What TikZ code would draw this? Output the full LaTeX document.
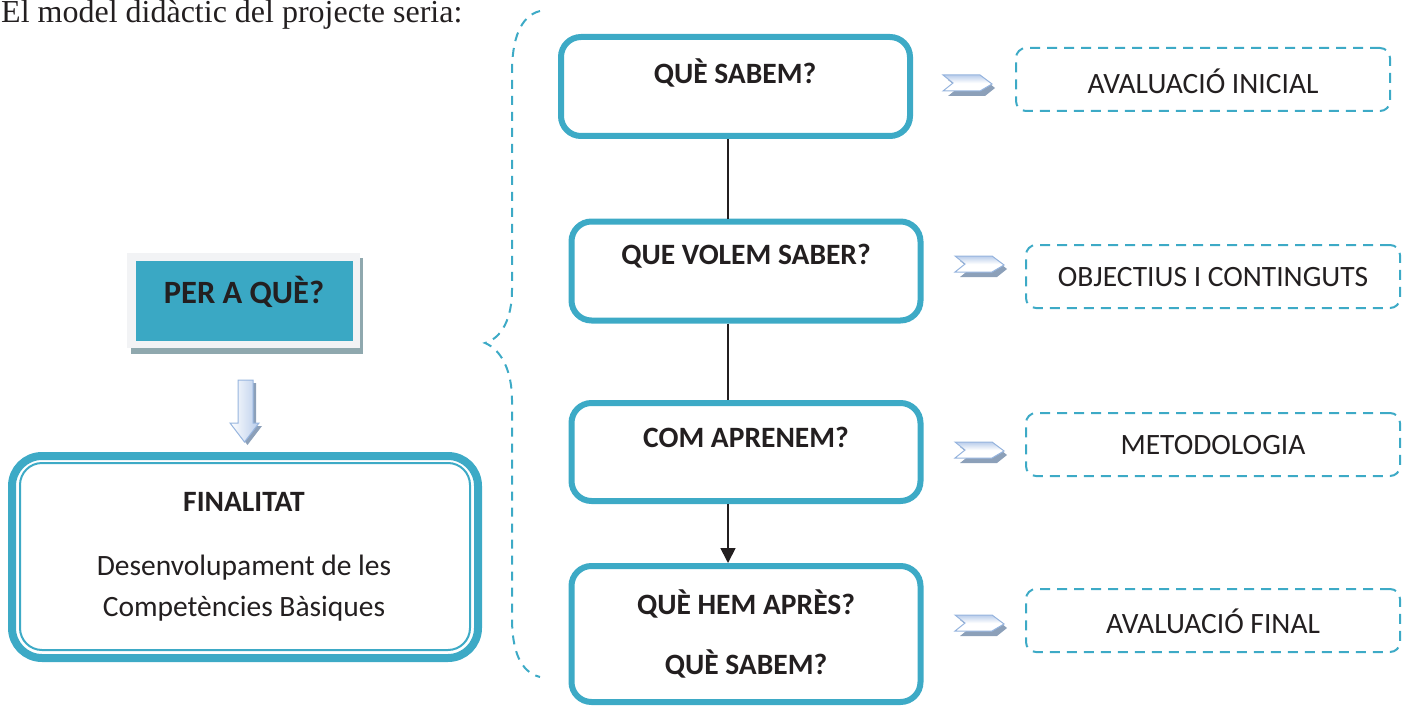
\documentclass[tikz,border=0pt]{standalone}
\usepackage{fontspec}
\setmainfont{Carlito}
\newfontfamily\titlefont{Liberation Serif}
\usetikzlibrary{arrows.meta,shadings}
\definecolor{teal1}{RGB}{61,170,198}
\definecolor{tealfill}{RGB}{58,168,196}
\definecolor{framegray}{RGB}{242,243,245}
\definecolor{shadowgray}{RGB}{143,168,174}
\definecolor{chevline}{RGB}{150,180,222}
\definecolor{chevfill}{RGB}{185,205,235}
\definecolor{chevshadow}{RGB}{140,160,185}
\definecolor{txt}{RGB}{35,31,32}
\tikzset{
  qbox/.style={draw=teal1, line width=6pt, rounded corners=20pt, fill=white, inner sep=0pt},
  dbox/.style={draw=teal1, line width=2pt, rounded corners=10pt, dash pattern=on 10pt off 7pt, inner sep=0pt},
  btext/.style={font=\fontsize{29.5}{35}\selectfont\bfseries, text=txt, inner sep=0pt},
  ntext/.style={font=\fontsize{29.5}{35}\selectfont, text=txt, inner sep=0pt},
  conn/.style={draw=txt, line width=1.8pt},
  chev/.style={draw=chevline, line width=1pt, top color=chevfill, bottom color=white, middle color=white},
  chevsh/.style={fill=chevshadow, draw=none},
}
\begin{document}
\begin{tikzpicture}[x=1pt,y=-1pt]
\useasboundingbox (0,0) rectangle (1403,706);
% title
\node[font=\titlefont\fontsize{32}{37}\selectfont, text=txt, anchor=base west, inner sep=0pt] (title) at (1,23) {El model didàctic del projecte seria:};

% brace
\draw[teal1, line width=2pt, dash pattern=on 9pt off 7pt] (540,11) .. controls (520,16) and (512,40) .. (512,72) -- (512,290) .. controls (512,318) and (502,338) .. (485,343) .. controls (502,350) and (512,372) .. (512,400) -- (512,618) .. controls (512,650) and (520,672) .. (540,677);

% PER A QUE box
\fill[shadowgray] (131,258) rectangle (363,354);
\fill[framegray] (127,253) rectangle (360,348);
\node[fill=tealfill, minimum width=217pt, minimum height=80pt, inner sep=0pt] (per) at (244,301) {};
\node[btext, font=\fontsize{32.5}{38}\selectfont\bfseries] (pert) at (244,292) {PER A QUÈ?};

% down block arrow
\fill[chevshadow] (241,383) -- (256,383) -- (256,426) -- (262,426) -- (247.5,445) -- (233,426) -- (241,426) -- cycle;
\draw[draw=chevline, line width=1pt, left color=white, right color=chevfill] (238,380) -- (253,380) -- (253,423) -- (259,423) -- (244.5,442) -- (230,423) -- (238,423) -- cycle;
\coordinate (darrow) at (244.5,442);

% FINALITAT box
\node[draw=teal1, line width=8pt, rounded corners=30pt, minimum width=466pt, minimum height=202pt, inner sep=0pt] (fin) at (245,557) {};
\draw[teal1, line width=2pt, rounded corners=22pt] (20,463) rectangle (470,650);
\node[btext] (fint) at (244,502) {FINALITAT};
\node[ntext] (fin1) at (244,568) {Desenvolupament de les};
\node[ntext] (fin2) at (244,609) {Competències Bàsiques};

% right column boxes
\node[qbox, minimum width=349pt, minimum height=99pt] (q1) at (735.5,86.5) {};
\node[btext] (q1t) at (735,73) {QUÈ SABEM?};
\node[qbox, minimum width=349pt, minimum height=99pt] (q2) at (746,271) {};
\node[btext] (q2t) at (746,256) {QUE VOLEM SABER?};
\node[qbox, minimum width=349pt, minimum height=98pt] (q3) at (746,452) {};
\node[btext] (q3t) at (746,437) {COM APRENEM?};
\node[qbox, minimum width=349pt, minimum height=136pt] (q4) at (746,634) {};
\node[btext] (q4t) at (746,604) {QUÈ HEM APRÈS?};
\node[btext] (q4s) at (746,664) {QUÈ SABEM?};

% connectors
\coordinate (lx) at (728,0);
\draw[conn] (q1.south -| lx) -- (q2.north -| lx);
\draw[conn] (q2.south -| lx) -- (q3.north -| lx);
\draw[conn, -{Triangle[length=15pt,width=15pt]}] (q3.south -| lx) -- (q4.north -| lx);

% chevrons
\foreach \x/\y/\n in {943/84/c1, 955/265/c2, 955/451/c3, 955/624/c4}{
  \fill[chevsh] (\x+5,\y-4) -- (\x+42,\y-4) -- (\x+52,\y+4) -- (\x+42,\y+12) -- (\x+5,\y+12) -- (\x+15,\y+4) -- cycle;
  \draw[chev] (\x,\y-9) -- (\x+37,\y-9) -- (\x+49,\y) -- (\x+37,\y+7) -- (\x,\y+7) -- (\x+10,\y-1) -- cycle;
  \coordinate (\n) at (\x+49,\y);
}

% dashed boxes
\node[dbox, minimum width=374pt, minimum height=63pt] (d1) at (1203,79.5) {};
\node[ntext] (d1t) at (1203,81) {AVALUACIÓ INICIAL};
\node[dbox, minimum width=374pt, minimum height=63pt] (d2) at (1213,276.5) {};
\node[ntext] (d2t) at (1213,277) {OBJECTIUS I CONTINGUTS};
\node[dbox, minimum width=374pt, minimum height=63pt] (d3) at (1213,444.5) {};
\node[ntext] (d3t) at (1213,445) {METODOLOGIA};
\node[dbox, minimum width=374pt, minimum height=63pt] (d4) at (1213,620.5) {};
\node[ntext] (d4t) at (1213,621) {AVALUACIÓ FINAL};
\end{tikzpicture}
\end{document}
